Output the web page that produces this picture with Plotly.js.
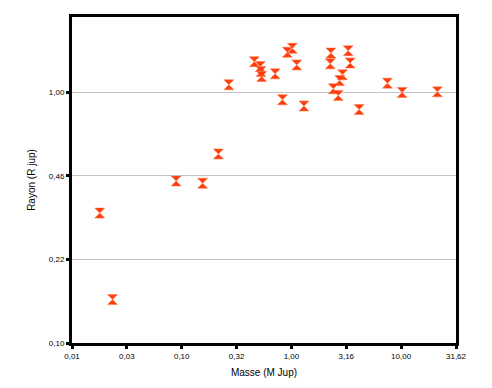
<!DOCTYPE html>
<html>
<head>
<meta charset="utf-8">
<script src="https://cdn.plot.ly/plotly-3.0.1.min.js"></script>
<style>html,body{margin:0;padding:0;background:#fff;}#chart{width:492px;height:388px;}</style>
</head>
<body>
<div id="chart"></div>
<script>
// Mass (Jupiter masses) and radius (Jupiter radii) of planets
const masse = [0.0179, 0.0234, 0.089, 0.155, 0.216, 0.269,
  0.459, 0.520, 0.528, 0.535, 0.711, 0.828, 0.918, 1.019, 1.117, 1.30,
  2.29, 3.29, 2.26, 3.43, 2.92, 2.75, 2.41, 2.67, 4.14, 7.5, 10.2, 21.4];
const rayon = [0.330, 0.149, 0.443, 0.434, 0.568, 1.073,
  1.327, 1.268, 1.211, 1.157, 1.186, 0.935, 1.446, 1.50, 1.288, 0.883,
  1.437, 1.467, 1.30, 1.311, 1.175, 1.116, 1.034, 0.973, 0.854, 1.089, 1.0, 1.006];

const xTickVals = [0.01, 0.0316, 0.1, 0.316, 1, 3.162, 10, 31.62];
const xTickText = ['0,01', '0,03', '0,10', '0,32', '1,00', '3,16', '10,00', '31,62'];
const yTickVals = [0.1, 0.2154, 0.4642, 1];
const yTickText = ['0,10', '0,22', '0,46', '1,00'];

const trace = {
  x: masse, y: rayon, type: 'scatter', mode: 'markers',
  marker: {symbol: 'hourglass', size: 10, color: '#ff3c0c', line: {color: '#ff7040', width: 0.5}},
  hoverinfo: 'x+y'
};

const layout = {
  width: 492, height: 388,
  margin: {l: 72, r: 36, t: 17, b: 45},
  paper_bgcolor: '#fff', plot_bgcolor: '#fff',
  showlegend: false,
  font: {family: 'Liberation Sans, Arial, sans-serif', color: '#000'},
  xaxis: {
    type: 'log', range: [-2, 1.5],
    tickvals: xTickVals, ticktext: xTickText,
    tickfont: {size: 8}, ticks: 'outside', ticklen: 3, tickwidth: 3, tickcolor: '#000',
    showgrid: false, zeroline: false,
    showline: true, linecolor: '#000', linewidth: 3, mirror: true,
    title: {text: 'Masse (M Jup)', font: {size: 10}, standoff: 10}
  },
  yaxis: {
    type: 'log', range: [-1, 0.301],
    tickvals: yTickVals, ticktext: yTickText,
    tickfont: {size: 8}, ticks: 'outside', ticklen: 3, tickwidth: 3, tickcolor: '#000',
    showgrid: true, gridcolor: '#c4c4c4', gridwidth: 1, zeroline: false,
    showline: true, linecolor: '#000', linewidth: 3, mirror: true,
    title: {text: 'Rayon (R jup)', font: {size: 10}, standoff: 12}
  }
};

Plotly.newPlot('chart', [trace], layout, {displayModeBar: false, staticPlot: true});
</script>
</body>
</html>
